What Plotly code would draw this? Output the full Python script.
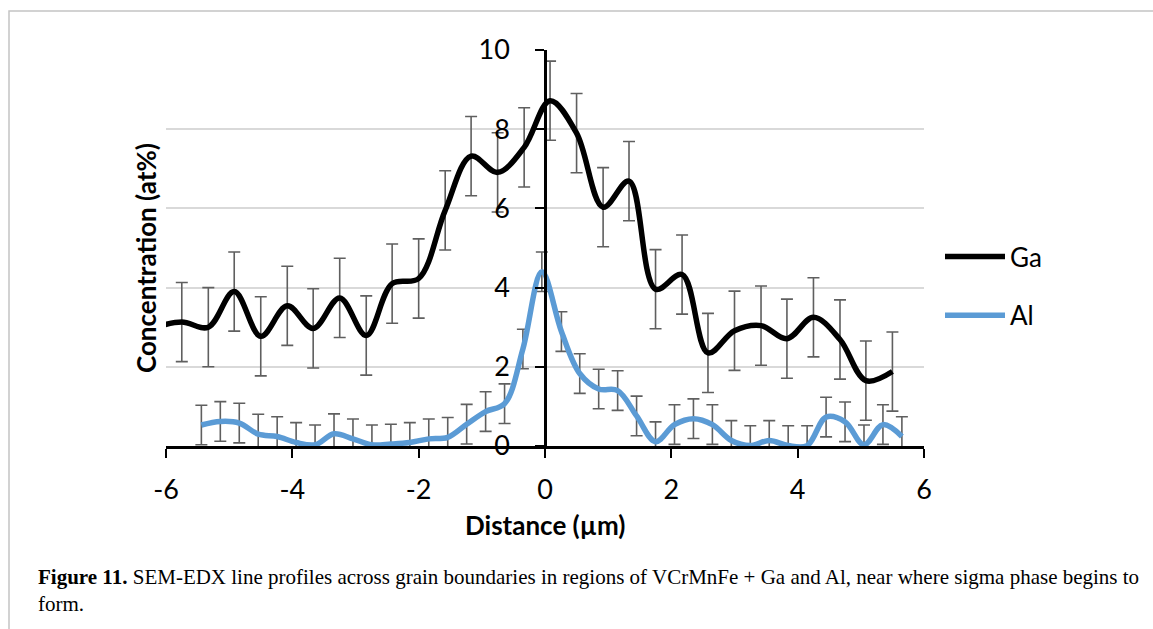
import plotly.graph_objects as go

# ---- data ----
ga_x = [-6.17, -5.75, -5.33, -4.92, -4.50, -4.08, -3.67, -3.25, -2.83, -2.42,
        -2.00, -1.58, -1.17, -0.75, -0.33, 0.08, 0.50, 0.92, 1.33, 1.75,
        2.17, 2.58, 3.00, 3.42, 3.83, 4.25, 4.67, 5.08, 5.50]
ga_y = [3.00, 3.13, 3.00, 3.90, 2.77, 3.54, 2.97, 3.74, 2.79, 4.10,
        4.23, 5.95, 7.32, 6.91, 7.54, 8.72, 7.90, 6.03, 6.69, 3.96,
        4.33, 2.35, 2.91, 3.04, 2.71, 3.25, 2.69, 1.65, 1.88]
ga_err = [1.0] * len(ga_x)

al_x = [-5.44, -5.14, -4.84, -4.54, -4.24, -3.94, -3.64, -3.34, -3.04, -2.74,
        -2.44, -2.14, -1.84, -1.54, -1.24, -0.94, -0.64, -0.35, -0.05, 0.26,
        0.55, 0.85, 1.15, 1.45, 1.75, 2.05, 2.35, 2.65, 2.95, 3.25,
        3.55, 3.85, 4.15, 4.45, 4.75, 5.05, 5.35, 5.65]
al_y = [0.53, 0.62, 0.58, 0.30, 0.24, 0.09, 0.03, 0.31, 0.18, 0.03,
        0.05, 0.09, 0.18, 0.22, 0.55, 0.87, 1.07, 2.45, 4.40, 2.89,
        1.83, 1.44, 1.40, 0.76, 0.11, 0.54, 0.69, 0.54, 0.14, 0.01,
        0.14, 0.01, 0.01, 0.73, 0.61, 0.03, 0.54, 0.24]
al_err = [0.5] * len(al_x)

x_ticks = [-6, -4, -2, 0, 2, 4, 6]
x_tick_text = ["-6", "-4", "-2", "0", "2", "4", "6"]
y_ticks = [0, 2, 4, 6, 8, 10]
y_tick_text = ["0", "2", "4", "6", "8", "10"]

FONT = "Lato"
ERR_COLOR = "#5f5f5f"

fig = go.Figure()
fig.add_trace(go.Scatter(
    x=ga_x, y=ga_y, name="Ga", mode="lines",
    line=dict(color="#000000", width=5.5, shape="spline", smoothing=1.0),
    error_y=dict(type="data", array=ga_err, visible=True, color=ERR_COLOR,
                 thickness=1.6, width=6),
    legendgroup="ga",
))
fig.add_trace(go.Scatter(
    x=al_x, y=al_y, name="Al", mode="lines",
    line=dict(color="#5b9bd5", width=5.5, shape="spline", smoothing=1.0),
    error_y=dict(type="data", array=al_err, visible=True, color=ERR_COLOR,
                 thickness=1.6, width=6),
    legendgroup="al",
))

W, H = 1153, 629
ML, MR, MT, MB = 166, 229, 50, 183
PW, PH = W - ML - MR, H - MT - MB


def px(xp):
    return (xp - ML) / PW


def py(yp):
    return (H - MB - yp) / PH


fig.update_layout(
    width=W, height=H,
    margin=dict(l=ML, r=MR, t=MT, b=MB, pad=0),
    paper_bgcolor="white", plot_bgcolor="white",
    font=dict(family=FONT, size=26, color="#000000"),
    showlegend=True,
    legend=dict(x=px(940), y=py(286), xanchor="left", yanchor="middle",
                font=dict(family=FONT, size=26), tracegroupgap=22,
                itemwidth=60, bgcolor="rgba(0,0,0,0)"),
    xaxis=dict(range=[-6, 6], tickvals=x_ticks, ticktext=x_tick_text,
               showgrid=False, zeroline=False,
               showline=True, linecolor="#000000", linewidth=2.5,
               ticks="outside", ticklen=9, tickwidth=2, tickcolor="#000000",
               ticklabelstandoff=9,
               tickfont=dict(family=FONT, size=27)),
    yaxis=dict(range=[0, 10], tickvals=y_ticks, ticktext=y_tick_text,
               showgrid=True,
               gridcolor="#d9d9d9", gridwidth=1.5, zeroline=False,
               showline=True, linecolor="#000000", linewidth=2.5,
               ticks="outside", ticklen=9, tickwidth=2, tickcolor="#000000",
               ticklabelstandoff=20,
               anchor="free", position=0.5,
               tickfont=dict(family=FONT, size=27)),
    shapes=[dict(type="rect", xref="paper", yref="paper",
                 x0=px(9), x1=px(1170), y0=py(650), y1=py(11),
                 line=dict(color="#c4c4c4", width=1.5), layer="below")],
    annotations=[
        dict(text="<b>Concentration (at%)</b>", xref="paper", yref="paper",
             x=px(146), y=py(258), textangle=-90, showarrow=False,
             xanchor="center", yanchor="middle",
             font=dict(family=FONT, size=26)),
        dict(text="<b>Distance (µm)</b>", xref="paper", yref="paper",
             x=px(545), y=py(525), showarrow=False,
             xanchor="center", yanchor="middle",
             font=dict(family=FONT, size=26)),
        dict(text="<b>Figure 11.</b> SEM-EDX line profiles across grain boundaries in regions of "
                  "VCrMnFe + Ga and Al, near where sigma phase begins to<br>form.",
             xref="paper", yref="paper", x=px(36), y=py(563),
             xanchor="left", yanchor="top", align="left", showarrow=False,
             font=dict(family="Liberation Serif", size=21, color="#000000")),
    ],
)

fig.write_html("out.html")
